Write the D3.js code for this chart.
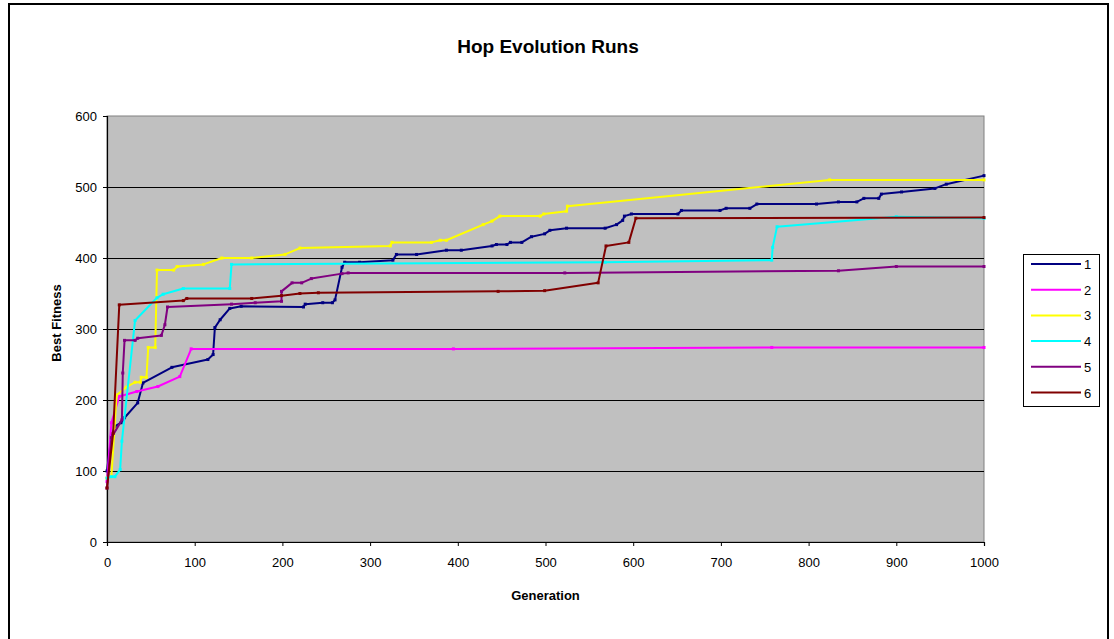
<!DOCTYPE html>
<html>
<head>
<meta charset="utf-8">
<script src="https://cdn.jsdelivr.net/npm/d3@7"></script>
<style>
  html, body { margin: 0; padding: 0; background: #fff; }
  svg { display: block; font-family: Arial, "Liberation Sans", sans-serif; }
</style>
</head>
<body>
<svg id="chart" width="1114" height="639"></svg>
<script>
// Best fitness per generation for each evolution run: [generation, fitness]
const run1 = [[0,100],[5,149],[9,163],[16,168],[20,175],[35,196],[41,224],[74,246],[115,257],[121,264],[123,302],[129,313],[140,329],[153,332],[224,331],[226,335],[246,337],[257,337],[260,341],[268,387],[271,394],[288,394],[326,397],[330,405],[353,405],[387,411],[404,411],[439,417],[444,419],[456,419],[460,422],[473,422],[484,430],[499,434],[505,439],[524,442],[568,442],[581,447],[588,453],[590,459],[598,462],[651,462],[655,467],[699,467],[706,470],[733,470],[741,476],[809,476],[834,479],[855,479],[863,484],[880,484],[883,490],[906,493],[944,498],[957,504],[1000,516]];
const run2 = [[0,85],[5,168],[14,205],[34,212],[58,219],[83,233],[96,272],[395,272],[758,274],[1000,274]];
const run3 = [[0,90],[5,92],[11,207],[22,218],[32,225],[38,225],[39,232],[45,232],[47,274],[55,274],[57,383],[76,383],[80,388],[110,391],[131,400],[165,400],[203,405],[220,414],[323,417],[325,422],[370,422],[380,425],[387,425],[429,447],[439,452],[448,459],[494,459],[498,462],[524,466],[525,473],[824,510],[1000,510]];
const run4 = [[0,90],[5,92],[9,92],[15,102],[17,142],[32,312],[57,344],[64,349],[87,357],[140,357],[142,391],[568,394],[758,397],[759,415],[764,444],[900,458],[1000,456]];
const run5 = [[0,76],[5,147],[17,172],[18,238],[20,284],[32,284],[35,287],[62,291],[66,306],[69,331],[142,335],[169,337],[199,339],[199,353],[211,365],[222,365],[233,371],[268,378],[275,379],[522,379],[834,382],[900,388],[1000,388]];
const run6 = [[0,76],[7,153],[14,334],[87,340],[91,343],[165,343],[199,347],[220,350],[241,351],[446,353],[499,354],[560,365],[569,417],[595,422],[603,456],[1000,457]];

const runNames = ["1", "2", "3", "4", "5", "6"];
const runColors = ["#000080", "#FF00FF", "#FFFF00", "#00FFFF", "#800080", "#800000"];
const xTicks = [0, 100, 200, 300, 400, 500, 600, 700, 800, 900, 1000];
const yTicks = [0, 100, 200, 300, 400, 500, 600];

const runs = [run1, run2, run3, run4, run5, run6];

const svg = d3.select("#chart");

// Outer chart frame
svg.append("rect")
  .attr("x", 9).attr("y", 4).attr("width", 1099).attr("height", 650)
  .attr("fill", "#fff").attr("stroke", "#000").attr("stroke-width", 2);

const plot = { left: 107, right: 984, top: 116, bottom: 542 };

const x = d3.scaleLinear().domain([0, 1000]).range([plot.left, plot.right]);
const y = d3.scaleLinear().domain([0, 600]).range([plot.bottom, plot.top]);

// Plot area background
svg.append("rect")
  .attr("x", plot.left).attr("y", plot.top)
  .attr("width", plot.right - plot.left).attr("height", plot.bottom - plot.top)
  .attr("fill", "#C0C0C0").attr("stroke", "#808080").attr("stroke-width", 1);

// Horizontal gridlines
svg.append("g")
  .selectAll("line")
  .data(yTicks.filter(d => d > 0 && d < 600))
  .join("line")
  .attr("x1", plot.left).attr("x2", plot.right)
  .attr("y1", d => Math.round(y(d)) + 0.5).attr("y2", d => Math.round(y(d)) + 0.5)
  .attr("stroke", "#000").attr("stroke-width", 1);

// Axes
const xAxis = d3.axisBottom(x).tickValues(xTicks).tickSize(4).tickPadding(12).tickFormat(d3.format("d"));
const yAxis = d3.axisLeft(y).tickValues(yTicks).tickSize(4).tickPadding(6).tickFormat(d3.format("d"));

const gx = svg.append("g").attr("transform", `translate(0,${plot.bottom})`).call(xAxis);
const gy = svg.append("g").attr("transform", `translate(${plot.left},0)`).call(yAxis);
[gx, gy].forEach(g => {
  g.select(".domain").attr("stroke", "#000").attr("stroke-width", 1.2);
  g.selectAll(".tick line").attr("stroke", "#000");
  g.selectAll(".tick text").attr("fill", "#000").style("font-size", "13px")
    .style("font-family", "Arial, 'Liberation Sans', sans-serif");
});

// Series lines with small point markers
const line = d3.line().x(d => x(d[0])).y(d => y(d[1]));
runs.forEach((data, i) => {
  svg.append("path")
    .datum(data)
    .attr("d", line)
    .attr("fill", "none")
    .attr("stroke", runColors[i])
    .attr("stroke-width", 2)
    .attr("stroke-linejoin", "round");
  svg.append("g")
    .selectAll("rect")
    .data(data)
    .join("rect")
    .attr("x", d => x(d[0]) - 1.5).attr("y", d => y(d[1]) - 1.5)
    .attr("width", 3).attr("height", 3)
    .attr("fill", runColors[i]);
});

// Title and axis titles
svg.append("text")
  .attr("x", 548).attr("y", 53)
  .attr("text-anchor", "middle")
  .style("font-size", "19px").style("font-weight", "bold")
  .text("Hop Evolution Runs");

svg.append("text")
  .attr("x", (plot.left + plot.right) / 2).attr("y", 600)
  .attr("text-anchor", "middle")
  .style("font-size", "13px").style("font-weight", "bold")
  .text("Generation");

svg.append("text")
  .attr("transform", `translate(61,${(plot.top + plot.bottom) / 2 - 6}) rotate(-90)`)
  .attr("text-anchor", "middle")
  .style("font-size", "13px").style("font-weight", "bold")
  .text("Best Fitness");

// Legend
const legend = svg.append("g");
legend.append("rect")
  .attr("x", 1023.5).attr("y", 254.5).attr("width", 76).attr("height", 152)
  .attr("fill", "#fff").attr("stroke", "#000").attr("stroke-width", 1);
const items = legend.selectAll("g.item")
  .data(runNames)
  .join("g")
  .attr("class", "item")
  .attr("transform", (d, i) => `translate(0,${264 + i * 25.7})`);
items.append("line")
  .attr("x1", 1031).attr("x2", 1081)
  .attr("stroke", (d, i) => runColors[i]).attr("stroke-width", 2);
items.append("text")
  .attr("x", 1084).attr("y", 5)
  .style("font-size", "13px")
  .text(d => d);
</script>
</body>
</html>
